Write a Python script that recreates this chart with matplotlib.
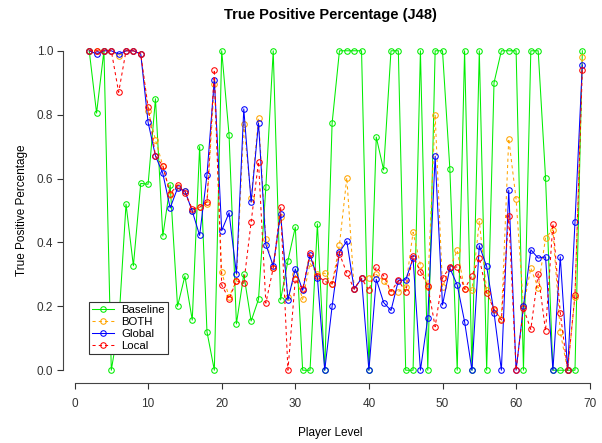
import matplotlib
matplotlib.use("Agg")
import matplotlib.pyplot as plt

levels = list(range(2, 70))

baseline = [1.0, 0.805, 1.0, 0.0, 0.14, 0.52, 0.327, 0.585, 0.582, 0.85,
            0.42, 0.58, 0.2, 0.295, 0.157, 0.70, 0.12, 0.0, 1.0, 0.737,
            0.145, 0.30, 0.154, 0.222, 0.573, 1.0, 0.22, 0.343, 0.448, 0.0,
            0.0, 0.458, 0.0, 0.773, 1.0, 1.0, 1.0, 1.0, 0.0, 0.73,
            0.627, 1.0, 1.0, 0.0, 0.0, 1.0, 0.0, 1.0, 1.0, 0.63,
            0.0, 1.0, 0.0, 1.0, 0.0, 0.9, 1.0, 1.0, 1.0, 0.0,
            1.0, 1.0, 0.603, 0.0, 0.0, 0.0, 0.0, 1.0]

both = [1.0, 1.0, 1.0, 1.0, 0.985, 1.0, 1.0, 0.99, 0.813, 0.721,
        0.64, 0.55, 0.575, 0.56, 0.50, 0.51, 0.52, 0.896, 0.306, 0.23,
        0.28, 0.77, 0.54, 0.79, 0.41, 0.32, 0.48, 0.23, 0.30, 0.222,
        0.335, 0.30, 0.304, 0.27, 0.393, 0.603, 0.254, 0.29, 0.29, 0.30,
        0.28, 0.246, 0.246, 0.26, 0.432, 0.33, 0.26, 0.80, 0.26, 0.32,
        0.375, 0.254, 0.25, 0.466, 0.25, 0.19, 0.16, 0.725, 0.535, 0.2,
        0.32, 0.257, 0.414, 0.44, 0.12, 0.0, 0.23, 0.98]

global_ = [1.0, 0.99, 1.0, 1.0, 0.99, 1.0, 1.0, 0.99, 0.776, 0.671,
           0.616, 0.508, 0.57, 0.561, 0.498, 0.422, 0.611, 0.91, 0.437, 0.493,
           0.302, 0.818, 0.526, 0.774, 0.393, 0.327, 0.49, 0.22, 0.317, 0.25,
           0.36, 0.29, 0.0, 0.2, 0.37, 0.404, 0.254, 0.288, 0.0, 0.285,
           0.212, 0.187, 0.28, 0.283, 0.35, 0.0, 0.163, 0.67, 0.204, 0.32,
           0.267, 0.152, 0.0, 0.39, 0.325, 0.18, 0.0, 0.564, 0.0, 0.2,
           0.377, 0.351, 0.355, 0.0, 0.355, 0.0, 0.463, 0.956]

local = [1.0, 1.0, 1.0, 1.0, 0.87, 1.0, 1.0, 0.99, 0.823, 0.671,
         0.64, 0.553, 0.579, 0.556, 0.505, 0.51, 0.527, 0.941, 0.267, 0.223,
         0.28, 0.272, 0.464, 0.653, 0.21, 0.32, 0.511, 0.0, 0.285, 0.254,
         0.367, 0.296, 0.278, 0.27, 0.365, 0.304, 0.254, 0.288, 0.25, 0.323,
         0.296, 0.246, 0.281, 0.246, 0.358, 0.309, 0.264, 0.136, 0.288, 0.323,
         0.323, 0.254, 0.296, 0.351, 0.243, 0.191, 0.157, 0.484, 0.0, 0.194,
         0.128, 0.302, 0.123, 0.459, 0.18, 0.0, 0.236, 0.941]

series_names = ["Baseline", "BOTH", "Global", "Local"]
x_ticks = [0, 10, 20, 30, 40, 50, 60, 70]
y_ticks = [0.0, 0.2, 0.4, 0.6, 0.8, 1.0]

plt.rcParams['font.family'] = ['Liberation Sans', 'DejaVu Sans']

W, H = 602, 443
fig = plt.figure(figsize=(W / 100, H / 100), dpi=100)
L, R, T, B = 63, 598, 38, 383
ax = fig.add_axes([L / W, 1 - B / H, (R - L) / W, (B - T) / H])

x0px, upx = 74.5, 7.36
ax.set_xlim((L - x0px) / upx, (R - x0px) / upx)
ax.set_ylim(-0.04, 1.04)

styles = [
    dict(color="#00EE00", ls="-"),
    dict(color="#FFA500", ls=(0, (3, 3))),
    dict(color="#0000FF", ls="-"),
    dict(color="#FF0000", ls=(0, (3, 3))),
]
data = [baseline, both, global_, local]
for name, vals, st in zip(series_names, data, styles):
    ax.plot(levels, vals, color=st["color"], ls=st["ls"], lw=0.75,
            marker="o", ms=4.0, mfc="none", mec=st["color"], mew=0.75,
            label=name)

ax.set_xticks(x_ticks)
ax.set_yticks(y_ticks)
ax.set_yticklabels([f"{v:.1f}" for v in y_ticks])
ax.tick_params(axis="both", direction="out", length=4, width=0.8,
               labelsize=8.5, colors="#333333")
ax.tick_params(axis="x", pad=7)
ax.tick_params(axis="y", pad=3)
for side in ["top", "right"]:
    ax.spines[side].set_visible(False)
ax.spines["left"].set_bounds(0.0, 1.0)
ax.spines["bottom"].set_bounds(0, 70)
for side in ["left", "bottom"]:
    ax.spines[side].set_linewidth(0.8)
    ax.spines[side].set_color("#444444")

ax.set_title("True Positive Percentage (J48)", fontsize=10.5, fontweight="bold", pad=14)
ax.set_xlabel("Player Level", fontsize=8.5, labelpad=12)
ax.set_ylabel("True Positive Percentage", fontsize=8.5, labelpad=6)

leg = ax.legend(loc="lower left", bbox_to_anchor=((89 - L) / (R - L), (B - 354) / (B - T)),
                fontsize=8.2, frameon=True, fancybox=False, edgecolor="#333333",
                handlelength=1.9, borderpad=0.3, labelspacing=0.15, handletextpad=0.6,
                borderaxespad=0, framealpha=1)
leg.get_frame().set_linewidth(0.8)

fig.savefig("out.png", dpi=100)
